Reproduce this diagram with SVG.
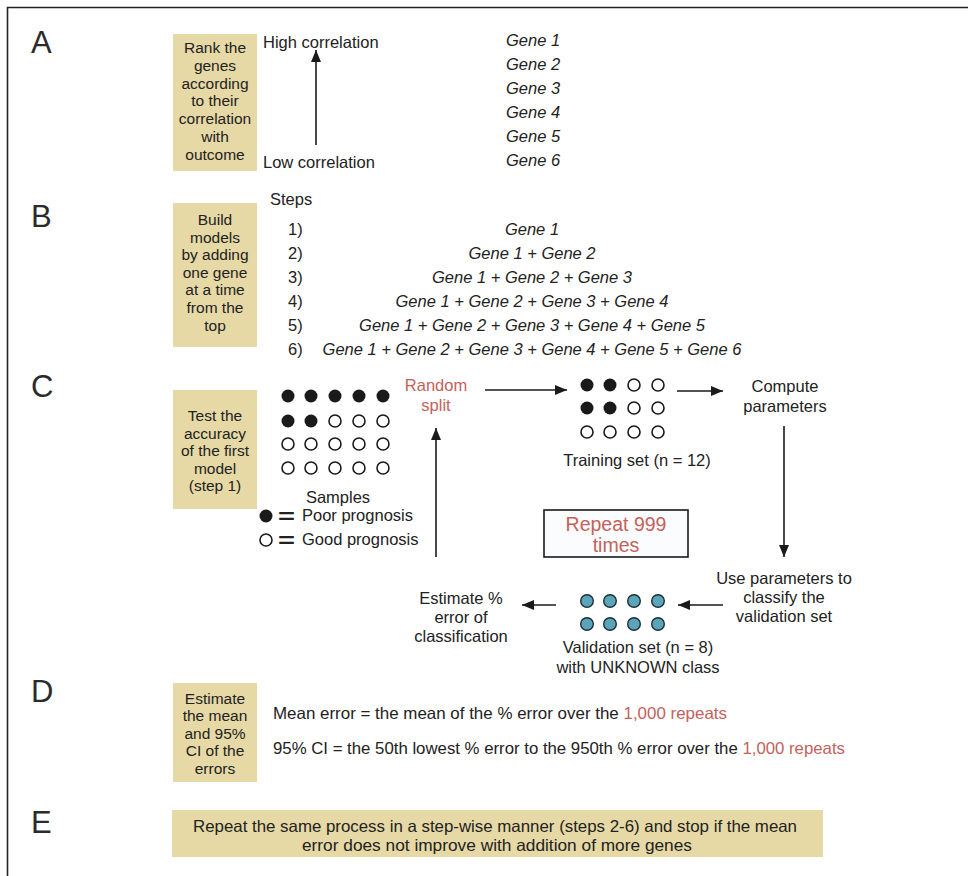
<svg xmlns="http://www.w3.org/2000/svg" width="968" height="876" viewBox="0 0 968 876">
<defs>
<style>
text{font-family:"Liberation Sans",Arial,sans-serif;fill:#222;}
.sec{font-size:31px;fill:#2b2b2b;}
.box{fill:#e6d9a5;}
.bt{font-size:15.5px;text-anchor:middle;}
.t{font-size:16.5px;}
.c{text-anchor:middle;}
.it{font-style:italic;}
.red{fill:#c4625b;}
.eq{font-size:20px;font-weight:bold;}
.ln{stroke:#1a1a1a;stroke-width:1.6;fill:none;}
.df{fill:#1a1a1a;}
.dh{fill:#fff;stroke:#1a1a1a;stroke-width:1.6;}
.dv{fill:#5ba4b9;stroke:#1c3038;stroke-width:1.4;}
</style>
<marker id="ah" markerUnits="userSpaceOnUse" markerWidth="12" markerHeight="10" refX="12" refY="5" orient="auto">
<path d="M0,0 L12,5 L0,10 z" fill="#1a1a1a"/>
</marker>
</defs>
<rect width="968" height="876" fill="#fff"/>
<path d="M7.5 876 V7.5 H968" stroke="#222" stroke-width="1.6" fill="none"/>

<g id="labels">
<text class="sec" x="31" y="53">A</text>
<text class="sec" x="31" y="227">B</text>
<text class="sec" x="31" y="397">C</text>
<text class="sec" x="31" y="702">D</text>
<text class="sec" x="31" y="833">E</text>
</g>

<g id="boxA">
<rect class="box" x="173" y="34" width="84" height="137"/>
<text class="bt" x="215" y="53">Rank the</text>
<text class="bt" x="215" y="71">genes</text>
<text class="bt" x="215" y="89">according</text>
<text class="bt" x="215" y="106">to their</text>
<text class="bt" x="215" y="124">correlation</text>
<text class="bt" x="215" y="142">with</text>
<text class="bt" x="215" y="160">outcome</text>
</g>
<g id="correlation-axis">
<text class="t" x="263" y="48">High correlation</text>
<text class="t" x="263" y="168">Low correlation</text>
</g>
<g id="gene-ranking">
<text class="t it" x="506" y="46">Gene 1</text>
<text class="t it" x="506" y="70">Gene 2</text>
<text class="t it" x="506" y="94">Gene 3</text>
<text class="t it" x="506" y="118">Gene 4</text>
<text class="t it" x="506" y="142">Gene 5</text>
<text class="t it" x="506" y="166">Gene 6</text>
</g>

<g id="boxB">
<rect class="box" x="173" y="203" width="84" height="144"/>
<text class="bt" x="215" y="225">Build</text>
<text class="bt" x="215" y="243">models</text>
<text class="bt" x="215" y="260">by adding</text>
<text class="bt" x="215" y="278">one gene</text>
<text class="bt" x="215" y="295">at a time</text>
<text class="bt" x="215" y="313">from the</text>
<text class="bt" x="215" y="331">top</text>
</g>
<g id="steps">
<text class="t" x="270" y="205">Steps</text>
<text class="t" x="288" y="235">1)</text>
<text class="t" x="288" y="259">2)</text>
<text class="t" x="288" y="283">3)</text>
<text class="t" x="288" y="307">4)</text>
<text class="t" x="288" y="331">5)</text>
<text class="t" x="288" y="355">6)</text>
<text class="t it c" x="532" y="235">Gene 1</text>
<text class="t it c" x="532" y="259">Gene 1 + Gene 2</text>
<text class="t it c" x="532" y="283">Gene 1 + Gene 2 + Gene 3</text>
<text class="t it c" x="532" y="307">Gene 1 + Gene 2 + Gene 3 + Gene 4</text>
<text class="t it c" x="532" y="331">Gene 1 + Gene 2 + Gene 3 + Gene 4 + Gene 5</text>
<text class="t it c" x="532" y="355">Gene 1 + Gene 2 + Gene 3 + Gene 4 + Gene 5 + Gene 6</text>
</g>

<g id="boxC">
<rect class="box" x="173" y="390" width="84" height="119"/>
<text class="bt" x="215" y="421">Test the</text>
<text class="bt" x="215" y="439">accuracy</text>
<text class="bt" x="215" y="456">of the first</text>
<text class="bt" x="215" y="474">model</text>
<text class="bt" x="215" y="491">(step 1)</text>
</g>

<g id="samples">
<circle class="df" cx="288" cy="396" r="6.5"/><circle class="df" cx="311" cy="396" r="6.5"/><circle class="df" cx="335" cy="396" r="6.5"/><circle class="df" cx="359" cy="396" r="6.5"/><circle class="df" cx="383" cy="396" r="6.5"/>
<circle class="df" cx="288" cy="421" r="6.5"/><circle class="df" cx="311" cy="421" r="6.5"/><circle class="dh" cx="335" cy="421" r="6"/><circle class="dh" cx="359" cy="421" r="6"/><circle class="dh" cx="383" cy="421" r="6"/>
<circle class="dh" cx="288" cy="444" r="6"/><circle class="dh" cx="311" cy="444" r="6"/><circle class="dh" cx="335" cy="444" r="6"/><circle class="dh" cx="359" cy="444" r="6"/><circle class="dh" cx="383" cy="444" r="6"/>
<circle class="dh" cx="288" cy="468" r="6"/><circle class="dh" cx="311" cy="468" r="6"/><circle class="dh" cx="335" cy="468" r="6"/><circle class="dh" cx="359" cy="468" r="6"/><circle class="dh" cx="383" cy="468" r="6"/>
<text class="t c" x="338" y="503">Samples</text>
</g>
<g id="legend">
<circle class="df" cx="266" cy="516" r="6.5"/>
<text class="eq" x="278" y="523" textLength="17" lengthAdjust="spacingAndGlyphs">=</text>
<text class="t" x="302" y="521">Poor prognosis</text>
<circle class="dh" cx="266" cy="540" r="6"/>
<text class="eq" x="278" y="547" textLength="17" lengthAdjust="spacingAndGlyphs">=</text>
<text class="t" x="302" y="545">Good prognosis</text>
</g>

<g id="random-split">
<text class="t c red" x="436" y="391">Random</text>
<text class="t c red" x="436" y="411">split</text>
</g>

<g id="training-set">
<circle class="df" cx="587" cy="385" r="6.5"/><circle class="df" cx="610" cy="385" r="6.5"/><circle class="dh" cx="634" cy="385" r="6"/><circle class="dh" cx="658" cy="385" r="6"/>
<circle class="df" cx="587" cy="408" r="6.5"/><circle class="df" cx="610" cy="408" r="6.5"/><circle class="dh" cx="634" cy="408" r="6"/><circle class="dh" cx="658" cy="408" r="6"/>
<circle class="dh" cx="587" cy="432" r="6"/><circle class="dh" cx="610" cy="432" r="6"/><circle class="dh" cx="634" cy="432" r="6"/><circle class="dh" cx="658" cy="432" r="6"/>
<text class="t c" x="637" y="466">Training set (n = 12)</text>
</g>

<g id="compute">
<text class="t c" x="785" y="392">Compute</text>
<text class="t c" x="785" y="412">parameters</text>
</g>

<g id="repeat-box">
<rect x="544" y="510" width="144" height="47" fill="#fbfcfe" stroke="#1a1a1a" stroke-width="1.6"/>
<text class="c red" x="616" y="531" style="font-size:19.5px">Repeat 999</text>
<text class="c red" x="616" y="552" style="font-size:19.5px">times</text>
</g>

<g id="use-parameters">
<text class="t c" x="784" y="584">Use parameters to</text>
<text class="t c" x="784" y="603">classify the</text>
<text class="t c" x="784" y="622">validation set</text>
</g>

<g id="validation-set">
<circle class="dv" cx="587" cy="601" r="6.3"/><circle class="dv" cx="610" cy="601" r="6.3"/><circle class="dv" cx="634" cy="601" r="6.3"/><circle class="dv" cx="658" cy="601" r="6.3"/>
<circle class="dv" cx="587" cy="624" r="6.3"/><circle class="dv" cx="610" cy="624" r="6.3"/><circle class="dv" cx="634" cy="624" r="6.3"/><circle class="dv" cx="658" cy="624" r="6.3"/>
<text class="t c" x="638" y="653">Validation set (n = 8)</text>
<text class="t c" x="638" y="673">with UNKNOWN class</text>
</g>

<g id="estimate-error">
<text class="t c" x="461" y="604">Estimate %</text>
<text class="t c" x="461" y="623">error of</text>
<text class="t c" x="461" y="642">classification</text>
</g>

<g id="connectors">
<line class="ln" x1="316" y1="145" x2="316" y2="50" marker-end="url(#ah)"/>
<line class="ln" x1="485" y1="390" x2="567" y2="390" marker-end="url(#ah)"/>
<line class="ln" x1="677" y1="391" x2="723" y2="391" marker-end="url(#ah)"/>
<line class="ln" x1="784" y1="426" x2="784" y2="557" marker-end="url(#ah)"/>
<line class="ln" x1="723" y1="605" x2="678" y2="605" marker-end="url(#ah)"/>
<line class="ln" x1="556" y1="605" x2="522" y2="605" marker-end="url(#ah)"/>
<line class="ln" x1="436" y1="557" x2="436" y2="428" marker-end="url(#ah)"/>
</g>

<g id="boxD">
<rect class="box" x="173" y="683" width="84" height="99"/>
<text class="bt" x="215" y="704">Estimate</text>
<text class="bt" x="215" y="721">the mean</text>
<text class="bt" x="215" y="739">and 95%</text>
<text class="bt" x="215" y="756">CI of the</text>
<text class="bt" x="215" y="774">errors</text>
</g>
<g id="statistics">
<text class="t" x="273" y="719" textLength="454" lengthAdjust="spacingAndGlyphs">Mean error = the mean of the % error over the <tspan class="red">1,000 repeats</tspan></text>
<text class="t" x="273" y="754" textLength="572" lengthAdjust="spacingAndGlyphs">95% CI = the 50th lowest % error to the 950th % error over the <tspan class="red">1,000 repeats</tspan></text>
</g>

<g id="boxE">
<rect class="box" x="172" y="810" width="651" height="47"/>
<text class="c" x="495" y="832" style="font-size:16.5px" textLength="604" lengthAdjust="spacingAndGlyphs">Repeat the same process in a step-wise manner (steps 2-6) and stop if the mean</text>
<text class="c" x="497" y="851" style="font-size:16.5px" textLength="390" lengthAdjust="spacingAndGlyphs">error does not improve with addition of more genes</text>
</g>
</svg>
